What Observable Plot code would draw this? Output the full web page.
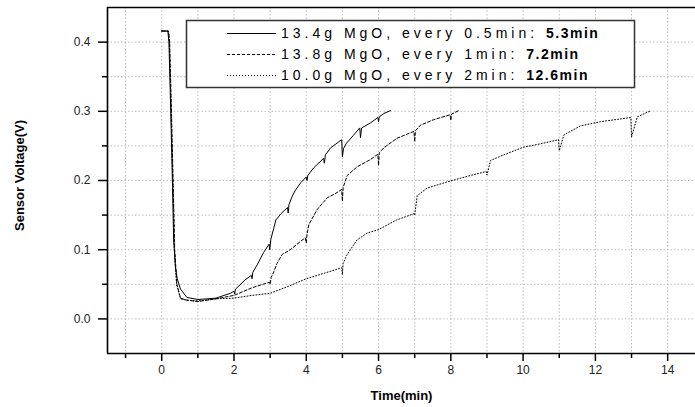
<!DOCTYPE html>
<html><head><meta charset="utf-8">
<script src="https://cdn.jsdelivr.net/npm/d3@7"></script>
<script src="https://cdn.jsdelivr.net/npm/@observablehq/plot@0.6"></script>
<style>
body{margin:0;background:#fff;}
#chart svg{display:block;}
</style></head><body><div id="chart"></div>
<script>
// Series 1: 13.4g MgO, every 0.5 min
const s1Time = [0,0.17,0.2,0.25,0.3,0.33,0.38,0.43,0.52,0.7,1.0,1.5,1.9,2.0,2.02,2.04,2.3,2.48,2.5,2.52,2.64,2.82,2.97,2.99,3.02,3.1,3.16,3.3,3.48,3.5,3.52,3.6,3.7,3.85,4.0,4.02,4.04,4.2,4.48,4.5,4.53,4.67,4.8,4.98,5.0,5.03,5.1,5.3,5.48,5.5,5.53,5.77,5.98,6.0,6.02,6.15,6.33];
const s1Volt = [0.416,0.416,0.40,0.30,0.19,0.114,0.075,0.058,0.043,0.031,0.028,0.030,0.037,0.040,0.036,0.043,0.056,0.063,0.058,0.067,0.078,0.096,0.108,0.100,0.115,0.131,0.143,0.152,0.161,0.153,0.165,0.176,0.186,0.197,0.205,0.200,0.207,0.218,0.232,0.225,0.237,0.247,0.252,0.259,0.234,0.246,0.253,0.265,0.276,0.262,0.276,0.283,0.291,0.285,0.292,0.297,0.301];
// Series 2: 13.8g MgO, every 1 min
const s2Time = [0,0.19,0.22,0.27,0.32,0.36,0.42,0.52,0.7,1.0,1.5,2.0,2.5,2.98,3.0,3.03,3.1,3.19,3.33,3.56,3.84,3.97,4.0,4.02,4.07,4.3,4.58,4.8,4.98,5.0,5.02,5.13,5.41,5.77,5.98,6.0,6.02,6.14,6.51,6.98,7.0,7.02,7.16,7.53,7.98,8.0,8.02,8.22];
const s2Volt = [0.416,0.416,0.40,0.30,0.19,0.10,0.05,0.030,0.027,0.025,0.029,0.034,0.045,0.053,0.050,0.060,0.068,0.080,0.093,0.100,0.112,0.117,0.110,0.122,0.136,0.158,0.175,0.181,0.187,0.170,0.190,0.207,0.220,0.230,0.238,0.222,0.240,0.247,0.261,0.271,0.256,0.272,0.280,0.288,0.295,0.287,0.296,0.301];
// Series 3: 10.0g MgO, every 2 min
const s3Time = [0,0.18,0.21,0.26,0.31,0.35,0.41,0.52,0.7,1.0,1.5,2.0,2.5,3.0,3.5,4.0,4.5,4.98,5.0,5.02,5.12,5.4,5.68,6.0,6.5,6.98,7.0,7.07,7.34,7.9,8.45,8.98,9.0,9.1,9.46,10.0,10.48,10.98,11.0,11.13,11.59,12.14,12.98,13.0,13.16,13.5];
const s3Volt = [0.416,0.416,0.40,0.30,0.19,0.10,0.05,0.029,0.027,0.026,0.029,0.030,0.034,0.037,0.047,0.058,0.066,0.074,0.064,0.080,0.092,0.114,0.124,0.129,0.143,0.152,0.150,0.178,0.189,0.198,0.206,0.213,0.208,0.229,0.237,0.248,0.253,0.259,0.243,0.266,0.279,0.285,0.291,0.263,0.292,0.300];

const legendLabels = ["13.4g MgO, every 0.5min: ", "13.8g MgO, every 1min: ", "10.0g MgO, every 2min: "];
const legendBold = ["5.3min", "7.2min", "12.6min"];
const legendDash = ["none", "3,2", "1,2"];

const xMajorTicks = [0,2,4,6,8,10,12,14];
const xMinorTicks = [-1,1,3,5,7,9,11,13];
const xGridTicks = [-1,0,1,2,3,4,5,6,7,8,9,10,11,12,13,14];
const yMajorTicks = [0,0.1,0.2,0.3,0.4];
const yMinorTicks = [0.05,0.15,0.25,0.35];
const yGridTicks = [0,0.05,0.1,0.15,0.2,0.25,0.3,0.35,0.4];

const toRows = (t, v) => t.map((x, i) => ({t: x, v: v[i]}));
const rows1 = toRows(s1Time, s1Volt);
const rows2 = toRows(s2Time, s2Volt);
const rows3 = toRows(s3Time, s3Volt);

const gridStyle = {stroke: "#bdbdbd", strokeOpacity: 1, strokeDasharray: "1.5,2", strokeWidth: 1};
const FONT = "'Liberation Sans', Arial, sans-serif";

const plot = Plot.plot({
  width: 695, height: 407,
  marginLeft: 107, marginRight: 0, marginTop: 7, marginBottom: 54,
  x: {domain: [-1.5, 14.77], label: null},
  y: {domain: [-0.05, 0.45], label: null},
  style: {fontFamily: FONT, fontSize: "12px", color: "#000", background: "#fff"},
  marks: [
    Plot.gridX(xGridTicks, gridStyle),
    Plot.gridY(yGridTicks, gridStyle),
    Plot.axisX(xMajorTicks, {tickSize: 8, tickPadding: 4, label: null, fill: "#222", strokeWidth: 1.5, tickFormat: d => String(d)}),
    Plot.axisX(xMinorTicks, {tickSize: 5, label: null, strokeWidth: 1.5, tickFormat: () => ""}),
    Plot.axisY(yMajorTicks, {tickSize: 9, tickPadding: 8, label: null, fill: "#222", strokeWidth: 1.5, tickFormat: d3.format(".1f")}),
    Plot.axisY(yMinorTicks, {tickSize: 5, label: null, strokeWidth: 1.5, tickFormat: () => ""}),
    Plot.ruleX([-1.5], {stroke: "#000", strokeWidth: 1.6}),
    Plot.ruleY([-0.05, 0.45], {stroke: "#000", strokeWidth: 1.6}),
    Plot.line(rows3, {x: "t", y: "v", stroke: "#000", strokeWidth: 1, strokeDasharray: "1,2"}),
    Plot.line(rows2, {x: "t", y: "v", stroke: "#000", strokeWidth: 1, strokeDasharray: "3,2"}),
    Plot.line(rows1, {x: "t", y: "v", stroke: "#000", strokeWidth: 1}),
    Plot.text([0], {frameAnchor: "bottom", dy: 42, textAnchor: "middle", lineAnchor: "middle", text: () => "Time(min)", fontWeight: "bold", fontSize: 13, fill: "#000", letterSpacing: "2px"}),
    Plot.text([0], {frameAnchor: "left", dx: -88, dy: -5, textAnchor: "middle", lineAnchor: "middle", rotate: -90, text: () => "Sensor Voltage(V)", fontWeight: "bold", fontSize: 13, fill: "#000"})
  ]
});
document.getElementById("chart").appendChild(plot);

// Legend box inside plot area
const svg = d3.select(plot);
const lg = svg.append("g").attr("font-family", FONT).attr("font-size", 14)
  .attr("letter-spacing", "4px").attr("text-anchor", "start");
lg.append("rect").attr("x", 186.5).attr("y", 20.5).attr("width", 448).attr("height", 67)
  .attr("fill", "#fff").attr("stroke", "#333").attr("stroke-width", 1.5);
legendLabels.forEach((lab, i) => {
  const cy = 33 + i * 21;
  lg.append("line").attr("x1", 227).attr("x2", 276).attr("y1", cy + 0.5).attr("y2", cy + 0.5)
    .attr("stroke", "#000").attr("stroke-width", 1).attr("stroke-dasharray", legendDash[i]);
  const t = lg.append("text").attr("x", 281).attr("y", cy + 5).attr("fill", "#000").attr("text-anchor", "start");
  t.append("tspan").text(lab);
  t.append("tspan").attr("font-weight", "bold").attr("letter-spacing", "1.5px").text(legendBold[i]);
});
</script></body></html>
